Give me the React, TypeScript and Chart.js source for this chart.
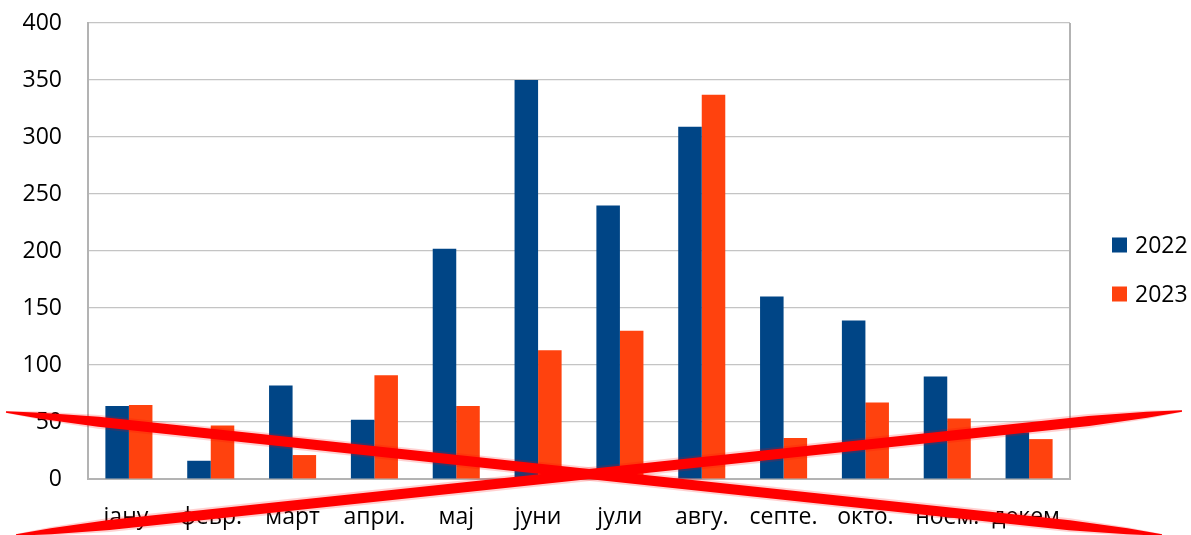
import { useEffect, useRef } from "react";
import { Chart, registerables } from "chart.js";

Chart.register(...registerables);

// Monthly totals, 2022 vs 2023
const months = ["јану.", "февр.", "март", "апри.", "мај", "јуни", "јули", "авгу.", "септе.", "окто.", "ноем.", "декем."];
const values2022 = [64, 16, 82, 52, 202, 350, 240, 309, 160, 139, 90, 41];
const values2023 = [65, 47, 21, 91, 64, 113, 130, 337, 36, 67, 53, 35];
const seriesLabels = ["2022", "2023"];
const seriesColors = ["#004586", "#ff420e"];
const yMin = 0;
const yMax = 400;
const yStep = 50;

// Hand-drawn red cross over the chart (canvas pixel coordinates)
const strikeLines: [number, number, number, number][] = [
  [6, 412, 1162, 535],
  [16, 535, 1182, 411],
];

// Legend placement (canvas pixel coordinates)
const legendX = 1112;
const legendRows = [245, 294];
const legendBox = 15;

const FONT = "'Open Sans', 'Noto Sans', sans-serif";
const FONT_SIZE = 23;
const GRID = "#c4c4c4";
const FRAME = "#b3b3b3";

function drawBrush(ctx: CanvasRenderingContext2D, x1: number, y1: number, x2: number, y2: number, w: number) {
  const dx = x2 - x1;
  const dy = y2 - y1;
  const len = Math.hypot(dx, dy);
  const nx = -dy / len;
  const ny = dx / len;
  const stops = [
    [0, 0.15],
    [0.03, 0.6],
    [0.08, 1],
    [0.92, 1],
    [0.97, 0.6],
    [1, 0.15],
  ];
  const top: [number, number][] = [];
  const bot: [number, number][] = [];
  for (const [t, s] of stops) {
    const px = x1 + dx * t;
    const py = y1 + dy * t;
    const h = (w * s) / 2;
    top.push([px + nx * h, py + ny * h]);
    bot.push([px - nx * h, py - ny * h]);
  }
  ctx.beginPath();
  ctx.moveTo(top[0][0], top[0][1]);
  for (const p of top.slice(1)) ctx.lineTo(p[0], p[1]);
  for (const p of bot.reverse()) ctx.lineTo(p[0], p[1]);
  ctx.closePath();
  ctx.fill();
}

const framePlugin = {
  id: "plotFrame",
  beforeDatasetsDraw(chart: any) {
    const { ctx, chartArea } = chart;
    ctx.save();
    ctx.strokeStyle = FRAME;
    ctx.lineWidth = 2;
    ctx.beginPath();
    ctx.moveTo(chartArea.right, chartArea.top);
    ctx.lineTo(chartArea.right, chartArea.bottom);
    ctx.stroke();
    ctx.restore();
  },
};

const legendPlugin = {
  id: "sideLegend",
  afterDraw(chart: any) {
    const { ctx } = chart;
    ctx.save();
    ctx.font = `${FONT_SIZE}px ${FONT}`;
    ctx.textBaseline = "middle";
    ctx.textAlign = "left";
    chart.data.datasets.forEach((ds: any, i: number) => {
      const cy = legendRows[i];
      ctx.fillStyle = ds.backgroundColor;
      ctx.fillRect(legendX, cy - legendBox / 2, legendBox, legendBox);
      ctx.fillStyle = "#000";
      ctx.fillText(ds.label, legendX + legendBox + 8, cy + 1);
    });
    ctx.restore();
  },
};

const crossPlugin = {
  id: "redCross",
  afterDraw(chart: any) {
    const { ctx } = chart;
    ctx.save();
    ctx.fillStyle = "rgba(255, 0, 0, 0.18)";
    for (const [a, b, c, d] of strikeLines) drawBrush(ctx, a, b, c, d, 14);
    ctx.fillStyle = "#ff0000";
    for (const [a, b, c, d] of strikeLines) drawBrush(ctx, a, b, c, d, 10);
    ctx.restore();
  },
};

export default function App() {
  const canvasRef = useRef<HTMLCanvasElement | null>(null);

  useEffect(() => {
    if (!canvasRef.current) return;
    const chart = new Chart(canvasRef.current, {
      type: "bar",
      data: {
        labels: months,
        datasets: [
          { label: seriesLabels[0], data: values2022, backgroundColor: seriesColors[0] },
          { label: seriesLabels[1], data: values2023, backgroundColor: seriesColors[1] },
        ],
      },
      options: {
        responsive: false,
        animation: false,
        datasets: { bar: { categoryPercentage: 0.575, barPercentage: 1 } },
        layout: { autoPadding: false, padding: { left: 0, top: 23, right: 121, bottom: 0 } },
        scales: {
          x: {
            grid: { display: false },
            border: { color: FRAME, width: 2 },
            ticks: { color: "#000", font: { family: FONT, size: FONT_SIZE }, padding: 17, maxRotation: 0, autoSkip: false },
            afterFit(scale: any) {
              scale.height = 56;
              scale.paddingLeft = 0;
              scale.paddingRight = 0;
            },
          },
          y: {
            min: yMin,
            max: yMax,
            grid: { color: GRID, lineWidth: 1.2, drawTicks: false },
            border: { color: FRAME, width: 2 },
            ticks: { stepSize: yStep, color: "#000", font: { family: FONT, size: FONT_SIZE }, padding: 26 },
            afterFit(scale: any) {
              scale.width = 88;
              scale.paddingTop = 0;
              scale.paddingBottom = 0;
            },
          },
        },
        plugins: {
          legend: { display: false },
          tooltip: { enabled: false },
        },
      },
      plugins: [framePlugin, legendPlugin, crossPlugin],
    });
    return () => chart.destroy();
  }, []);

  return (
    <div style={{ position: "absolute", left: 0, top: 0, width: 1191, height: 535, background: "#fff" }}>
      <canvas ref={canvasRef} width={1191} height={535} />
    </div>
  );
}
